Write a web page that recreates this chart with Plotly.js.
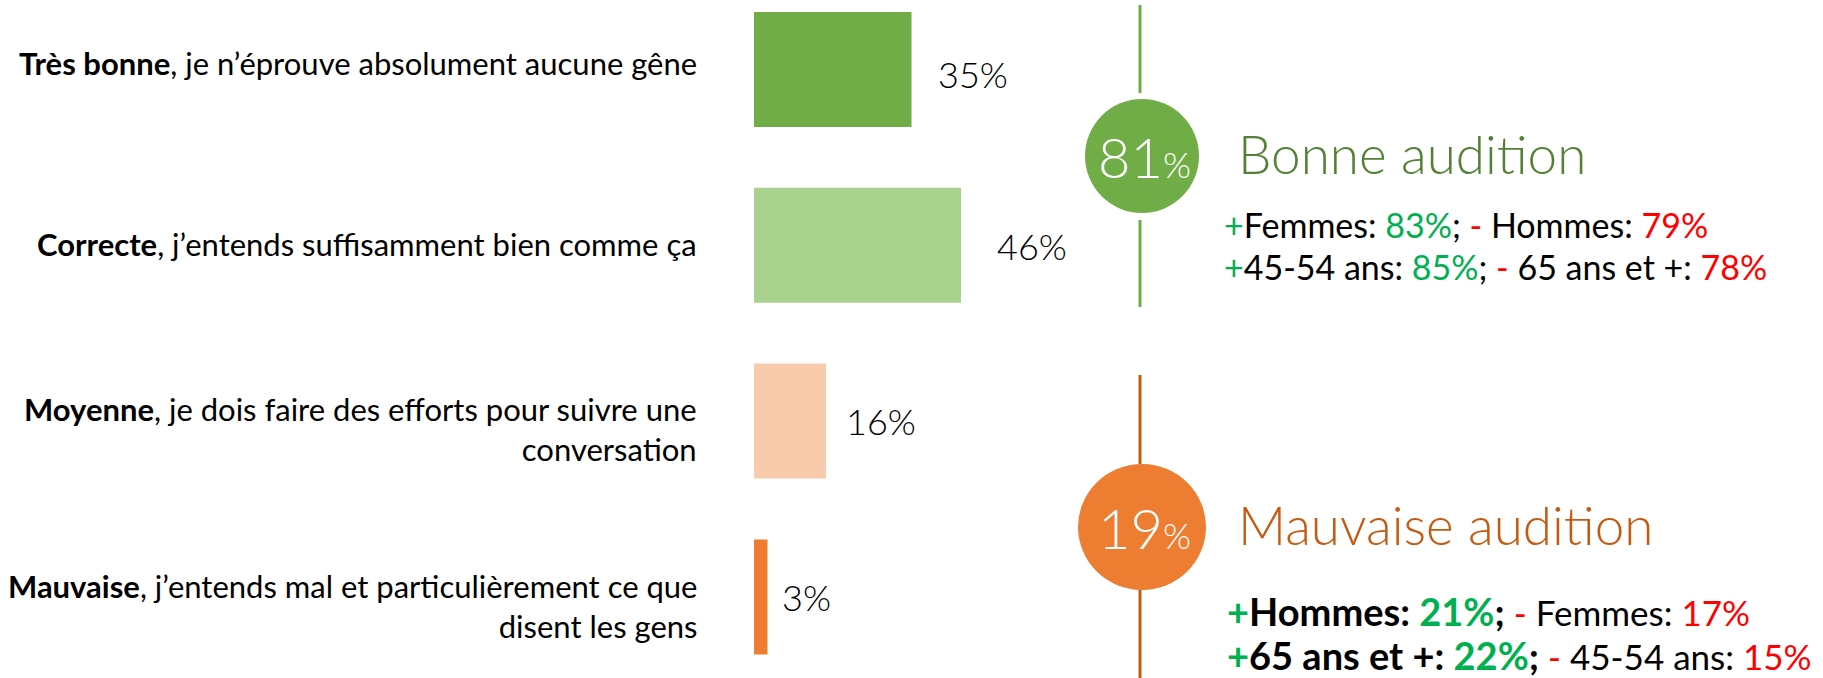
<!DOCTYPE html>
<html>
<head>
<meta charset="utf-8">
<script src="https://cdn.plot.ly/plotly-3.0.1.min.js"></script>
<style>html,body{margin:0;padding:0;background:#fff;}#chart{width:1823px;height:678px;}</style>
</head>
<body>
<div id="chart"></div>
<script>
// ---- data ----
const categories = ["Très bonne", "Correcte", "Moyenne", "Mauvaise"];
const descriptions = [
  "je n’éprouve absolument aucune gêne",
  "j’entends suffisamment bien comme ça",
  "je dois faire des efforts pour suivre une<br>conversation",
  "j’entends mal et particulièrement ce que<br>disent les gens"
];
const values = [35, 46, 16, 3];
const barColors = ["#70AD47", "#A9D18E", "#F8CBAD", "#ED7D31"];

const summaryValues = [81, 19];
const summaryLabels = ["Bonne audition", "Mauvaise audition"];

const goodPlusLabels = ["Femmes", "45-54 ans"];
const goodPlusValues = [83, 85];
const goodMinusLabels = ["Hommes", "65 ans et +"];
const goodMinusValues = [79, 78];

const badPlusLabels = ["Hommes", "65 ans et +"];
const badPlusValues = [21, 22];
const badMinusLabels = ["Femmes", "45-54 ans"];
const badMinusValues = [17, 15];

// ---- layout / style helpers ----
const W = 1823, H = 678;
const px = x => x / W;
const py = y => 1 - y / H;
const GREEN = "#00B050", RED = "#FF0000";
const gothic = "Lato, 'Open Sans', sans-serif";
const body = "Lato, 'Open Sans', sans-serif";
const labelYShift = [6, 1, -8, -9];      // vertical nudges of the category labels (px)
const valueXShift = [24, 34, 18, 12];    // horizontal gaps of the value labels (px)
const valueYShift = [-5, -1, 0, 0];

const trace = {
  type: "bar",
  orientation: "h",
  x: values,
  y: categories,
  width: 0.654,
  marker: {color: barColors},
  hoverinfo: "skip"
};

const annotations = [];

// category labels
categories.forEach((c, i) => {
  annotations.push({
    xref: "paper", yref: "y", x: px(699), y: c,
    xanchor: "right", yanchor: "middle", align: "right",
    yshift: labelYShift[i],
    text: "<b>" + c + "</b>, " + descriptions[i],
    showarrow: false,
    font: {family: body, size: 31, color: "#000"}
  });
});

// value labels
values.forEach((v, i) => {
  annotations.push({
    xref: "x", yref: "y", x: v, y: categories[i],
    xanchor: "left", yanchor: "middle",
    xshift: valueXShift[i], yshift: valueYShift[i],
    text: v + "%", showarrow: false,
    font: {family: gothic, size: 36, color: "#000", weight: 300}
  });
});

// summary circles
const circleCY = [156, 527];
const titleColors = ["#538135", "#C55A11"];
summaryValues.forEach((v, i) => {
  annotations.push({
    xref: "paper", yref: "paper", x: px(1144), y: py(circleCY[i]),
    xanchor: "center", yanchor: "middle",
    text: v + "<span style='font-size:36px'>%</span>", showarrow: false,
    font: {family: gothic, size: 56, color: "#fff", weight: 300}
  });
  annotations.push({
    xref: "paper", yref: "paper", x: px(1236), y: py(circleCY[i] - 3),
    xanchor: "left", yanchor: "middle",
    text: summaryLabels[i], showarrow: false,
    font: {family: gothic, size: 53, color: titleColors[i], weight: 300}
  });
});

const col = (c, t) => "<span style='color:" + c + "'>" + t + "</span>";

// good detail lines
const goodY = [224, 266];
goodPlusLabels.forEach((l, i) => {
  annotations.push({
    xref: "paper", yref: "paper", x: px(1222), y: py(goodY[i]),
    xanchor: "left", yanchor: "middle", showarrow: false,
    text: col(GREEN, "+") + l + ": " + col(GREEN, goodPlusValues[i] + "%") + "; " +
          col(RED, "-") + " " + goodMinusLabels[i] + ": " + col(RED, goodMinusValues[i] + "%"),
    font: {family: body, size: 34, color: "#000"}
  });
});

// bad detail lines (bold part slightly larger)
const badY = [611, 655];
badPlusLabels.forEach((l, i) => {
  annotations.push({
    xref: "paper", yref: "paper", x: px(1225), y: py(badY[i]),
    xanchor: "left", yanchor: "middle", showarrow: false,
    text: "<span style='font-size:38px'><b>" + col(GREEN, "+") + l + ": " + col(GREEN, badPlusValues[i] + "%") + ";</b></span> " +
          col(RED, "-") + " " + badMinusLabels[i] + ": " + col(RED, badMinusValues[i] + "%"),
    font: {family: body, size: 35, color: "#000"}
  });
});

const shapes = [
  {type: "line", xref: "paper", yref: "paper", x0: px(1140), x1: px(1140), y0: py(5), y1: py(93), line: {color: "#70AD47", width: 3}},
  {type: "line", xref: "paper", yref: "paper", x0: px(1140), x1: px(1140), y0: py(220), y1: py(307), line: {color: "#70AD47", width: 3}},
  {type: "line", xref: "paper", yref: "paper", x0: px(1140), x1: px(1140), y0: py(375), y1: py(464), line: {color: "#C55A11", width: 3}},
  {type: "line", xref: "paper", yref: "paper", x0: px(1140), x1: px(1140), y0: py(590), y1: py(678), line: {color: "#C55A11", width: 3}},
  {type: "circle", xref: "paper", yref: "paper", xsizemode: "pixel", ysizemode: "pixel",
   xanchor: px(1142), yanchor: py(156), x0: -57, x1: 57, y0: -57, y1: 57,
   fillcolor: "#70AD47", line: {width: 0}},
  {type: "circle", xref: "paper", yref: "paper", xsizemode: "pixel", ysizemode: "pixel",
   xanchor: px(1142), yanchor: py(527), x0: -64, x1: 64, y0: -63, y1: 63,
   fillcolor: "#ED7D31", line: {width: 0}}
];

const layout = {
  width: W, height: H,
  margin: {l: 0, r: 0, t: 0, b: 0, pad: 0},
  paper_bgcolor: "#fff", plot_bgcolor: "rgba(0,0,0,0)",
  showlegend: false,
  xaxis: {domain: [px(754), px(1204)], range: [0, 100], visible: false, fixedrange: true},
  yaxis: {type: "category", range: [3.461, -0.395], visible: false, fixedrange: true},
  annotations: annotations,
  shapes: shapes
};

Plotly.newPlot("chart", [trace], layout, {displayModeBar: false, staticPlot: true});
</script>
</body>
</html>
